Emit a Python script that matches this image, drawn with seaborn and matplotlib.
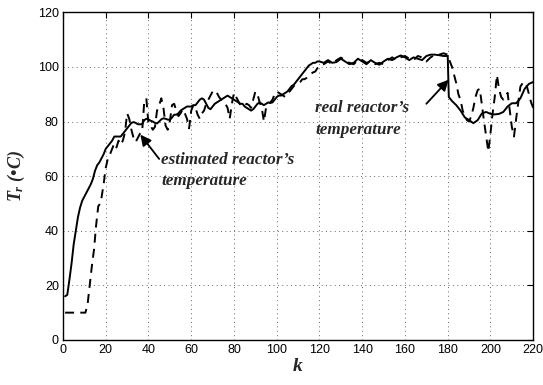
import matplotlib
matplotlib.use("Agg")
import matplotlib.pyplot as plt
import seaborn as sns
import numpy as np
import pandas as pd

# ---- data ----
k_real = [1, 2, 3, 4, 5, 6, 7, 8, 9, 10, 11, 12, 13, 14, 15, 16, 17, 18, 19, 20,
          21, 22, 23, 24, 25, 26, 27, 28, 29, 30, 31, 32, 33, 34, 35, 36, 37, 38, 39, 40,
          41, 42, 43, 44, 45, 46, 47, 48, 49, 50, 51, 52, 53, 54, 55, 56, 57, 58, 59, 60,
          61, 62, 63, 64, 65, 66, 67, 68, 69, 70, 71, 72, 73, 74, 75, 76, 77, 78, 79, 80,
          81, 82, 83, 84, 85, 86, 87, 88, 89, 90, 91, 92, 93, 94, 95, 96, 97, 98, 99, 100,
          101, 102, 103, 104, 105, 106, 107, 108, 109, 110, 111, 112, 113, 114, 115, 116, 117, 118, 119, 120,
          122, 124, 126, 128, 130, 132, 134, 136, 138, 140, 142, 144, 146, 148, 150,
          152, 154, 156, 158, 160, 162, 164, 166, 168, 170, 172, 174, 176, 178, 180,
          180.5, 182, 184, 186, 188, 190, 192, 194, 196, 198, 200, 202, 204, 206, 208,
          210, 212, 214, 216, 218, 220]
T_real = [16, 16.5, 22, 28, 35, 40, 45, 48.5, 51, 52.5, 54, 55.5, 57, 59, 62, 64, 65, 66.5, 68, 70,
          71, 72, 73, 74.5, 74.5, 74.5, 74.5, 75.5, 76.5, 77.5, 78.5, 79.5, 79.8, 79.5, 79, 79, 79, 80.5, 81, 80.8,
          80.3, 80, 79.5, 79.3, 80, 80.8, 81.2, 81, 80.7, 80.6, 81.5, 82.5, 82.5, 83, 84, 84.5, 85, 85.5, 85.5, 85.5,
          86, 86, 87, 88, 88.5, 88, 86.5, 85, 84.5, 85.5, 86.5, 87, 87.5, 88, 88.5, 89, 89.5, 89, 88.5, 88,
          87.5, 87, 86.5, 86.5, 85.5, 85, 84.5, 84, 84.5, 85.5, 86.5, 87, 86.5, 86, 86.5, 87, 86.8, 87, 88, 89,
          89.5, 89.5, 90, 90.5, 91, 92, 93, 93.5, 94.5, 95.5, 96.5, 97.5, 98.5, 99.5, 100.5, 101, 101.5, 101.5, 102, 102,
          101.5, 102.5, 101.5, 101.8, 103, 102, 101, 101.5, 103, 102, 101, 102.5, 101.5, 100.8, 102,
          103, 102.5, 103.5, 104.2, 103.5, 102.5, 103.5, 103, 102.5, 104, 104.5, 104.5, 104.3, 104, 104,
          89, 87.5, 86, 84, 81.5, 80.5, 79.4, 80.5, 83, 83.5, 82.8, 82.6, 82.8, 83.5, 85.5,
          86.7, 86.7, 88.5, 92, 93.8, 94.5]

k_est = [1, 10.5, 11.5, 12.5, 13.5, 14.5, 15.5, 16.5, 17.5, 18, 19, 20,
         21, 22, 23, 24, 25, 26, 27, 28, 29, 30, 31, 32, 33, 34, 35, 36, 37, 38, 39, 40,
         41, 42, 43, 44, 45, 46, 47, 48, 49, 50, 51, 52, 53, 54, 55, 56, 57, 58, 59, 60,
         61, 62, 63, 64, 65, 66, 67, 68, 69, 70, 71, 72, 73, 74, 75, 76, 77, 78, 79, 80,
         81, 82, 83, 84, 85, 86, 87, 88, 89, 90, 91, 92, 93, 94, 95, 96, 97, 98, 99, 100,
         101, 102, 103, 104, 105, 106, 107, 108, 109, 110, 111, 112, 113, 114, 115, 116, 117, 118, 119, 120,
         122, 124, 126, 128, 130, 132, 134, 136, 138, 140, 142, 144, 146, 148, 150,
         152, 154, 156, 158, 160, 162, 164, 166, 168, 170, 172, 174, 176, 178, 180,
         181, 182, 183, 184, 185, 186, 187, 188, 189, 190, 191, 192, 193, 194, 195, 196, 197, 198, 199, 200,
         201, 202, 203, 204, 205, 206, 207, 208, 209, 210, 211, 212, 213, 214, 215, 216, 217, 218, 219, 220]
T_est = [10, 10, 13, 20, 27, 33, 42, 49, 50, 52, 57, 63,
         66.5, 68, 70, 72, 70.5, 73, 71.5, 73, 76, 83, 81, 77, 74, 72.5, 74, 75.5, 76, 87, 88.5, 79,
         78.5, 77, 78, 84, 86, 88.5, 85, 78.5, 77, 80, 86, 86.5, 84, 82, 83, 84.5, 83, 81, 77.5, 84,
         86, 85, 82.5, 81, 83, 84, 86.5, 88, 89.5, 91, 91.5, 90.5, 89, 88, 87, 86.5, 85, 81, 86.5, 90.5,
         89, 87.5, 86, 85.5, 86, 86.5, 86, 85, 88, 91, 90, 87, 85, 80, 85, 86.5, 87, 88, 90, 91,
         90.5, 90, 89.5, 89, 90, 91, 92, 93, 93.5, 94, 94.5, 95.5, 95.5, 96, 96.8, 97.5, 98, 98.3, 99.5, 100.5,
         101, 102, 101, 102.5, 103.4, 102.5, 101.5, 101, 102.5, 102.5, 101.5, 102, 101, 101.5, 101,
         102.5, 103.5, 102.5, 103.5, 104, 103, 102.5, 104, 103.5, 102, 103.5, 104.5, 104.5, 105, 104.5,
         102, 100, 97, 94, 90, 87.9, 84, 82, 80.5, 80, 82, 85, 89, 91.5, 92, 86, 80, 74.5, 69, 75.7,
         83, 89, 97, 92, 89, 88, 89, 90.5, 84.2, 78, 74.5, 81, 87, 92.8, 94, 94.5, 93, 90, 87, 85]

x_ticks = [0, 20, 40, 60, 80, 100, 120, 140, 160, 180, 200, 220]
y_ticks = [0, 20, 40, 60, 80, 100, 120]

df_real = pd.DataFrame({"k": k_real, "T": T_real})
df_est = pd.DataFrame({"k": k_est, "T": T_est})

sns.set_style("white")
plt.rcParams["font.family"] = ["Liberation Sans", "DejaVu Sans"]
plt.rcParams["mathtext.fontset"] = "custom"
plt.rcParams["mathtext.it"] = "Liberation Serif:italic:bold"
plt.rcParams["mathtext.rm"] = "Liberation Serif:bold"
plt.rcParams["mathtext.bf"] = "Liberation Serif:bold"

fig = plt.figure(figsize=(5.43, 3.85), dpi=100)
ax = fig.add_axes([0.116, 0.117, 0.866, 0.851])

sns.lineplot(data=df_real, x="k", y="T", ax=ax, color="black", linewidth=1.4,
             estimator=None, sort=False)
sns.lineplot(data=df_est, x="k", y="T", ax=ax, color="black", linewidth=1.4,
             estimator=None, sort=False, linestyle=(0, (4.6, 3.2)))

ax.set_xlim(0, 220)
ax.set_ylim(0, 120)
ax.set_xticks(x_ticks)
ax.set_yticks(y_ticks)
ax.grid(True, color="0.4", linestyle=(0, (1, 3.5)), linewidth=0.7)
ax.tick_params(direction="in", top=True, right=True, length=4, width=0.8,
               labelsize=9, colors="black", pad=3)
for s in ax.spines.values():
    s.set_color("black")
    s.set_linewidth(1.0)

serif_bi = dict(family="Liberation Serif", weight="bold", style="italic")
ax.set_xlabel("k", fontsize=14, labelpad=1, **serif_bi)
ax.set_ylabel(r"$T_r$ (•C)", fontsize=13, labelpad=8, **serif_bi)

arrow_kw = dict(arrowstyle="-|>", color="black", lw=1.3, mutation_scale=16,
                shrinkA=0, shrinkB=0)
ax.text(46, 62, "estimated reactor’s\ntemperature", fontsize=12.3, ha="left",
        va="center", linespacing=1.45, **serif_bi)
ax.annotate("", xy=(36.2, 75.2), xytext=(45, 66.3), arrowprops=arrow_kw)
ax.text(118, 81, "real reactor’s\ntemperature", fontsize=12.3, ha="left",
        va="center", linespacing=1.45, **serif_bi)
ax.annotate("", xy=(180.4, 95.3), xytext=(170, 86.5), arrowprops=arrow_kw)

fig.savefig("out.png", dpi=100)
